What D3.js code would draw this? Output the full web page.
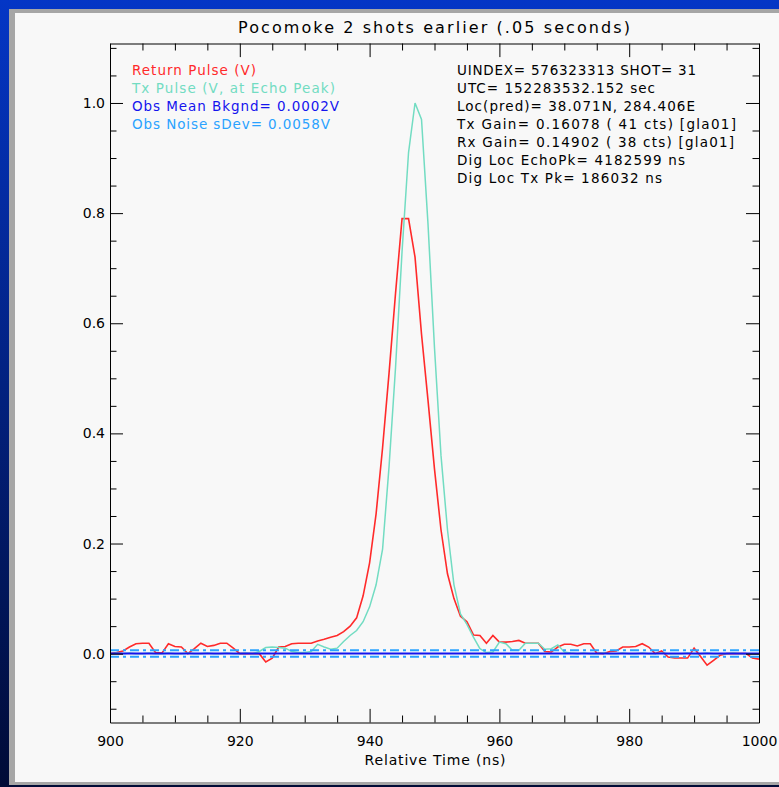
<!DOCTYPE html>
<html lang="en">
<head>
  <meta charset="utf-8">
  <title>Pocomoke 2 shots earlier</title>
  <script src="https://cdn.jsdelivr.net/npm/d3@7"></script>
  <style>
    body { margin: 0; background: #001040; }
    svg { display: block; }
    text { font-family: "DejaVu Sans", sans-serif; }
  </style>
</head>
<body>
  <div id="chart"></div>
<script>

  // sample times, 1 ns apart
  var timeNs = d3.range(900, 1001);

  var returnPulse = [
    0.0, 0.002, 0.005, 0.012, 0.018, 0.019, 0.019, 0.002, 0.001, 0.018,
    0.013, 0.012, 0.0, 0.009, 0.019, 0.013, 0.015, 0.019, 0.019, 0.01,
    0.0, 0.0, 0.0, 0.0, -0.015, -0.008, 0.012, 0.013, 0.018, 0.019,
    0.019, 0.019, 0.023, 0.026, 0.03, 0.033, 0.04, 0.05, 0.065, 0.105,
    0.165, 0.254, 0.374, 0.51, 0.655, 0.79, 0.79, 0.72, 0.58, 0.46,
    0.335, 0.225, 0.145, 0.10, 0.068, 0.058, 0.034, 0.033, 0.019, 0.033,
    0.021, 0.021, 0.022, 0.024, 0.019, 0.019, 0.019, 0.004, 0.003, 0.012,
    0.017, 0.017, 0.014, 0.018, 0.018, 0.001, 0.0, 0.004, 0.005, 0.012,
    0.012, 0.013, 0.018, 0.012, 0.0, 0.005, -0.006, -0.008, -0.008, -0.008,
    0.01, -0.005, -0.021, -0.012, -0.003, 0.0, 0.0, 0.0, 0.0, -0.008,
    -0.01
  ];

  var txPulse = [
    0.0, 0.001, 0.0, 0.001, 0.0, 0.0, 0.001, 0.0, 0.0, 0.001,
    0.0, 0.0, 0.001, 0.0, 0.0, 0.001, 0.0, 0.0, 0.001, 0.0,
    0.0, 0.001, 0.0, 0.004, 0.011, 0.012, 0.011, 0.010, 0.004, 0.002,
    0.002, 0.004, 0.017, 0.012, 0.008, 0.010, 0.022, 0.033, 0.042, 0.058,
    0.085, 0.125, 0.19, 0.34, 0.52, 0.73, 0.91, 1.0, 0.97, 0.78,
    0.555, 0.36, 0.225, 0.125, 0.072, 0.053, 0.030, 0.009, 0.002, 0.003,
    0.021, 0.018, 0.006, 0.006, 0.019, 0.019, 0.019, 0.008, 0.009, 0.016,
    0.003, 0.001, 0.0, 0.001, 0.0, 0.0, 0.001, 0.0, 0.0, 0.001,
    0.0, 0.0, 0.001, 0.0, 0.0, 0.001, 0.0, 0.0, 0.0, 0.001,
    0.0, 0.0, 0.001, 0.0, 0.0, 0.0, 0.001, 0.0, 0.0, 0.0,
    0.0
  ];

  var bkgndMean = 0.0002;
  var noiseSdev = 0.0058;

  var xMajor = [900, 920, 940, 960, 980, 1000];
  var xMinor = [905, 910, 915, 925, 930, 935, 945, 950, 955, 965, 970, 975, 985, 990, 995];
  var yMajor = [0.0, 0.2, 0.4, 0.6, 0.8, 1.0];
  var yMinor = [-0.1, -0.05, 0.05, 0.1, 0.15, 0.25, 0.3, 0.35, 0.45, 0.5, 0.55,
                0.65, 0.7, 0.75, 0.85, 0.9, 0.95, 1.05, 1.1];

  var legendLabels = [
    "Return Pulse (V)",
    "Tx Pulse (V, at Echo Peak)",
    "Obs Mean Bkgnd= 0.0002V",
    "Obs Noise sDev= 0.0058V"
  ];
  var infoLines = [
    "UINDEX= 576323313 SHOT= 31",
    "UTC= 152283532.152 sec",
    "Loc(pred)= 38.071N, 284.406E",
    "Tx Gain= 0.16078 ( 41 cts) [gla01]",
    "Rx Gain= 0.14902 ( 38 cts) [gla01]",
    "Dig Loc EchoPk= 4182599 ns",
    "Dig Loc Tx Pk= 186032 ns"
  ];

  // layout
  var w = 779, h = 787;
  var plotL = 110, plotR = 759, plotT = 43.5, plotB = 722.5;
  var legendColors = ["#ff2a2a", "#72dcc2", "#1414ee", "#2aa2ff"];
  var legendWidths = [124, 203, 207, 198];
  var infoWidths = [239, 198, 238, 279, 277, 228, 205];

  var svg = d3.select("#chart")
    .append("svg")
    .attr("width", w)
    .attr("height", h);

  // slide background
  var grad = svg.append("defs").append("linearGradient")
    .attr("id", "bg").attr("x1", 0).attr("y1", 0).attr("x2", 0).attr("y2", 1);
  grad.append("stop").attr("offset", "0%").attr("stop-color", "#0436c6");
  grad.append("stop").attr("offset", "100%").attr("stop-color", "#000b36");
  svg.append("rect").attr("width", w).attr("height", h).attr("fill", "url(#bg)");

  svg.append("rect").attr("x", 9).attr("y", 9).attr("width", w).attr("height", 776).attr("fill", "#a6a6a6");
  svg.append("rect").attr("x", 15).attr("y", 13).attr("width", w).attr("height", 769).attr("fill", "#f8f8f8");

  svg.append("clipPath").attr("id", "plotclip")
    .append("rect").attr("x", plotL).attr("y", plotT)
    .attr("width", plotR - plotL).attr("height", plotB - plotT);

  var x = d3.scaleLinear().domain([900, 1000]).range([plotL, plotR]);
  var y = d3.scaleLinear().domain([-0.125, 1.108]).range([plotB, plotT]);

  var line = d3.line()
    .x(function(d, i) { return x(timeNs[i]); })
    .y(function(d) { return y(d); });

  var plot = svg.append("g").attr("clip-path", "url(#plotclip)");

  // pulses
  plot.append("path").datum(returnPulse)
    .attr("d", line).attr("fill", "none")
    .attr("stroke", legendColors[0]).attr("stroke-width", 1.6);

  plot.append("path").datum(txPulse)
    .attr("d", line).attr("fill", "none")
    .attr("stroke", legendColors[1]).attr("stroke-width", 1.5);

  // background mean and noise levels
  var hline = function(v) {
    return d3.line()([[x(900), y(v)], [x(1000), y(v)]]);
  };
  plot.append("path").attr("d", hline(bkgndMean + noiseSdev))
    .attr("stroke", legendColors[3]).attr("stroke-width", 2)
    .attr("stroke-dasharray", "9,4,3,4");
  plot.append("path").attr("d", hline(bkgndMean - noiseSdev))
    .attr("stroke", legendColors[3]).attr("stroke-width", 2)
    .attr("stroke-dasharray", "9,4,3,4");
  plot.append("path").attr("d", hline(bkgndMean))
    .attr("stroke", legendColors[2]).attr("stroke-width", 2);

  // axes, ticks pointing inward
  var axisStyle = function(g) {
    g.selectAll("path.domain").attr("stroke", "#000");
    g.selectAll("line").attr("stroke", "#000");
    g.selectAll("text").attr("fill", "#000").attr("font-size", 14)
      .attr("font-family", "DejaVu Sans, sans-serif");
  };
  var noDomain = function(g) { g.select("path.domain").remove(); };

  svg.append("g").attr("transform", "translate(0," + plotB + ")")
    .call(d3.axisBottom(x).tickValues(xMajor).tickSizeInner(-13.6).tickSizeOuter(0)
      .tickPadding(14).tickFormat(d3.format("d")))
    .call(axisStyle);
  svg.append("g").attr("transform", "translate(0," + plotB + ")")
    .call(d3.axisBottom(x).tickValues(xMinor).tickSize(-7).tickFormat(""))
    .call(noDomain).call(axisStyle);

  svg.append("g").attr("transform", "translate(0," + plotT + ")")
    .call(d3.axisTop(x).tickValues(xMajor).tickSizeInner(-13.6).tickSizeOuter(0).tickFormat(""))
    .call(axisStyle);
  svg.append("g").attr("transform", "translate(0," + plotT + ")")
    .call(d3.axisTop(x).tickValues(xMinor).tickSize(-7).tickFormat(""))
    .call(noDomain).call(axisStyle);

  svg.append("g").attr("transform", "translate(" + plotL + ",0)")
    .call(d3.axisLeft(y).tickValues(yMajor).tickSizeInner(-13).tickSizeOuter(0)
      .tickPadding(5).tickFormat(d3.format(".1f")))
    .call(axisStyle);
  svg.append("g").attr("transform", "translate(" + plotL + ",0)")
    .call(d3.axisLeft(y).tickValues(yMinor).tickSize(-6.5).tickFormat(""))
    .call(noDomain).call(axisStyle);

  svg.append("g").attr("transform", "translate(" + plotR + ",0)")
    .call(d3.axisRight(y).tickValues(yMajor).tickSizeInner(-13).tickSizeOuter(0).tickFormat(""))
    .call(axisStyle);
  svg.append("g").attr("transform", "translate(" + plotR + ",0)")
    .call(d3.axisRight(y).tickValues(yMinor).tickSize(-6.5).tickFormat(""))
    .call(noDomain).call(axisStyle);

  // titles
  svg.append("text")
    .attr("x", 434).attr("y", 33)
    .attr("text-anchor", "middle")
    .attr("font-size", 16)
    .attr("textLength", 392).attr("lengthAdjust", "spacing")
    .text("Pocomoke 2 shots earlier (.05 seconds)");

  svg.append("text")
    .attr("x", 435).attr("y", 765)
    .attr("text-anchor", "middle")
    .attr("font-size", 14)
    .attr("textLength", 141).attr("lengthAdjust", "spacing")
    .text("Relative Time (ns)");

  // legend
  svg.selectAll(".legend")
    .data(legendLabels)
    .enter()
    .append("text")
    .attr("class", "legend")
    .attr("x", 132)
    .attr("y", function(d, i) { return 75 + i * 18.1; })
    .attr("font-size", 13.5)
    .attr("fill", function(d, i) { return legendColors[i]; })
    .attr("textLength", function(d, i) { return legendWidths[i]; })
    .attr("lengthAdjust", "spacing")
    .text(function(d) { return d; });

  // shot info
  svg.selectAll(".info")
    .data(infoLines)
    .enter()
    .append("text")
    .attr("class", "info")
    .attr("x", 457)
    .attr("y", function(d, i) { return 75 + i * 18.05; })
    .attr("font-size", 13.5)
    .attr("fill", "#000")
    .attr("textLength", function(d, i) { return infoWidths[i]; })
    .attr("lengthAdjust", "spacing")
    .text(function(d) { return d; });

</script>
</body>
</html>
